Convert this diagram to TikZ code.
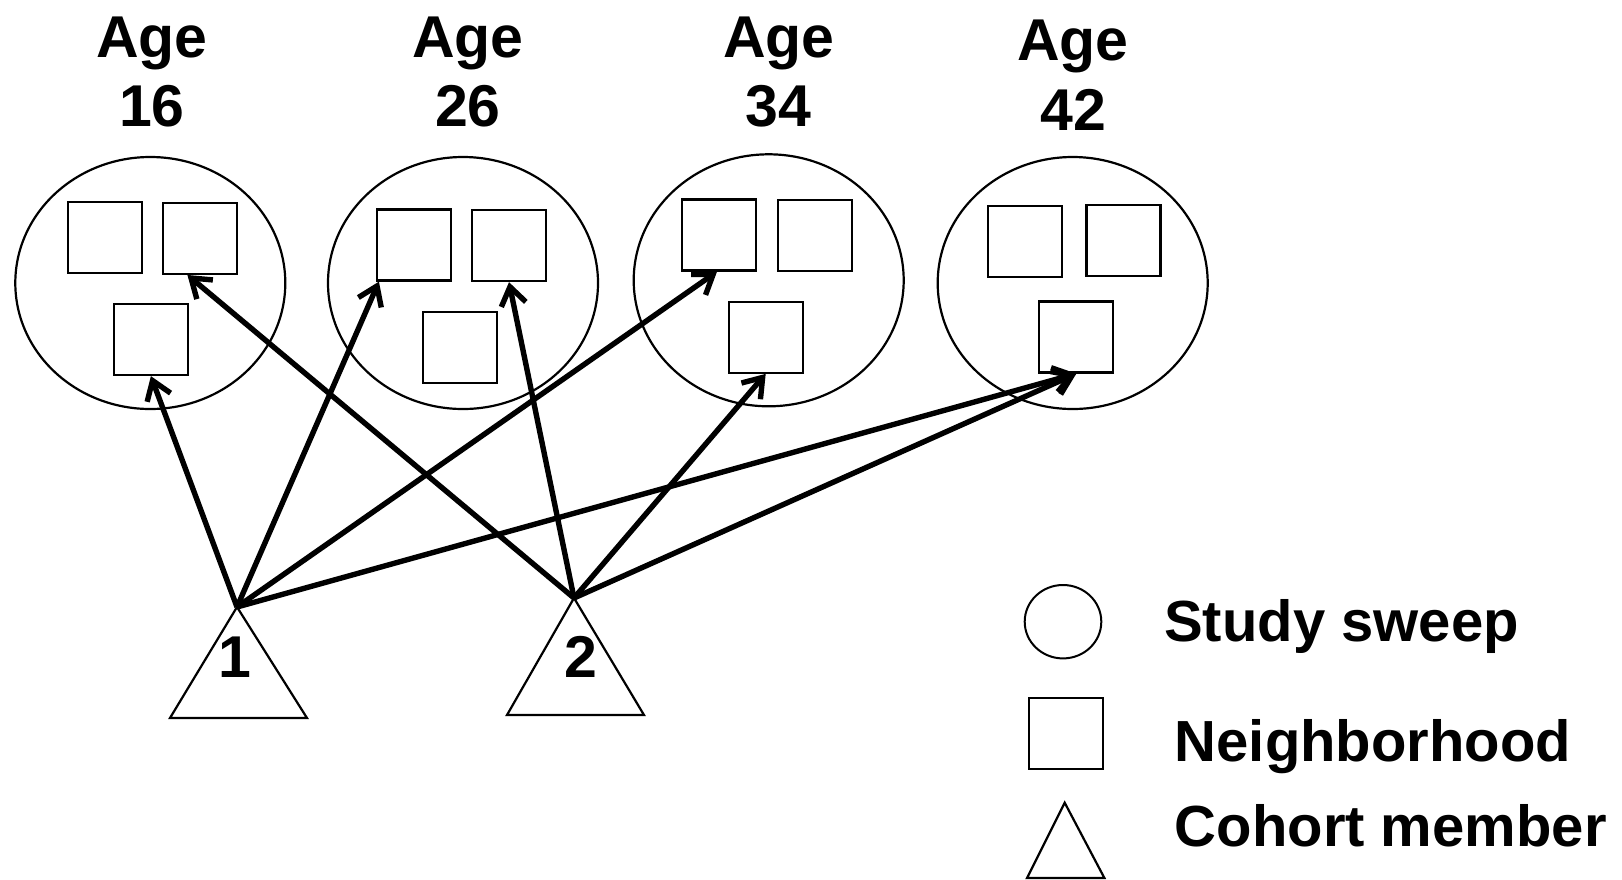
\documentclass[tikz,border=0pt]{standalone}
\usepackage{fontspec}
\setmainfont{Liberation Sans}
\usetikzlibrary{arrows.meta,shapes.geometric,calc}
\tikzset{
  sweep/.style={draw, ellipse, line width=2.2pt, inner sep=0pt, minimum width=270pt, minimum height=252pt},
  hood/.style={draw, rectangle, line width=2.3pt, inner sep=0pt, minimum width=74pt, minimum height=71pt},
  member/.style={draw, line width=2.2pt, line join=miter},
  link/.style={line width=5.4pt, -{Straight Barb[length=18pt,width=25pt]}},
  lbl/.style={inner sep=0pt, font=\fontsize{59}{60}\selectfont\bfseries, anchor=base},
  legtext/.style={inner sep=0pt, font=\fontsize{58}{60}\selectfont\bfseries, anchor=base west}
}
\begin{document}
\begin{tikzpicture}[x=1pt,y=-1pt]
\useasboundingbox (0,0) rectangle (1622,879);
% age labels
\node[lbl] (a16) at (152,57) {Age};
\node[lbl] (n16) at (152,126.7) {16};
\node[lbl] (a26) at (468,57) {Age};
\node[lbl] (n26) at (468,126.7) {26};
\node[lbl] (a34) at (779,57) {Age};
\node[lbl] (n34) at (778,126.7) {34};
\node[lbl] (a42) at (1073,60) {Age};
\node[lbl] (n42) at (1073,130) {42};
% study sweeps
\node[sweep] (c1) at (150.3,283) {};
\node[sweep] (c2) at (463,283) {};
\node[sweep] (c3) at (768.7,280.3) {};
\node[sweep] (c4) at (1072.7,283) {};
% neighborhoods
\node[hood] (s1a) at (104.8,237.5) {};
\node[hood] (s1b) at (200,238.3) {};
\node[hood] (s1c) at (150.9,339.5) {};
\node[hood] (s2a) at (414,245) {};
\node[hood] (s2b) at (509,245.5) {};
\node[hood] (s2c) at (459.8,347.4) {};
\node[hood] (s3a) at (719.3,235) {};
\node[hood] (s3b) at (814.7,235.3) {};
\node[hood] (s3c) at (765.7,337.2) {};
\node[hood] (s4a) at (1025.2,241.8) {};
\node[hood] (s4b) at (1123.5,240.2) {};
\node[hood] (s4c) at (1076.3,337) {};
% cohort members
\coordinate (t1) at (237,607);
\coordinate (t1l) at (170,718);
\coordinate (t1r) at (307,718);
\draw[member] (t1) -- (t1l) -- (t1r) -- cycle;
\node[lbl, font=\fontsize{59}{60}\selectfont\bfseries] (m1) at (235,677) {1};
\coordinate (t2) at (574,598);
\coordinate (t2l) at (507,715);
\coordinate (t2r) at (644,715);
\draw[member] (t2) -- (t2l) -- (t2r) -- cycle;
\node[lbl, font=\fontsize{59}{60}\selectfont\bfseries] (m2) at (581,677) {2};
% connectors
\draw[link] (t1) -- (s1c.south);
\draw[link] (t1) -- ($(s2a.south west)!0.04!(s2a.south east)$);
\draw[link] (t1) -- ($(s3a.south west)!0.47!(s3a.south east)$);
\draw[link] (t1) -- (s4c.south);
\draw[link] (t2) -- ($(s1b.south west)!0.335!(s1b.south east)$);
\draw[link] (t2) -- (s2b.south);
\draw[link] (t2) -- (s3c.south);
\draw[link] (t2) -- (s4c.south);
% legend
\node[draw, ellipse, line width=2pt, inner sep=0pt, minimum width=76.6pt, minimum height=73.4pt] (lc) at (1063,621.7) {};
\node[hood] (ls) at (1066.3,733.8) {};
\coordinate (lt) at (1064.7,802.7);
\draw[member] (lt) -- (1027,878) -- (1104.4,878) -- cycle;
\node[legtext] (l1) at (1164,641.7) {Study sweep};
\node[legtext] (l2) at (1174.6,761.7) {Neighborhood};
\node[legtext] (l3) at (1174.6,846.7) {Cohort member};
\end{tikzpicture}
\end{document}
